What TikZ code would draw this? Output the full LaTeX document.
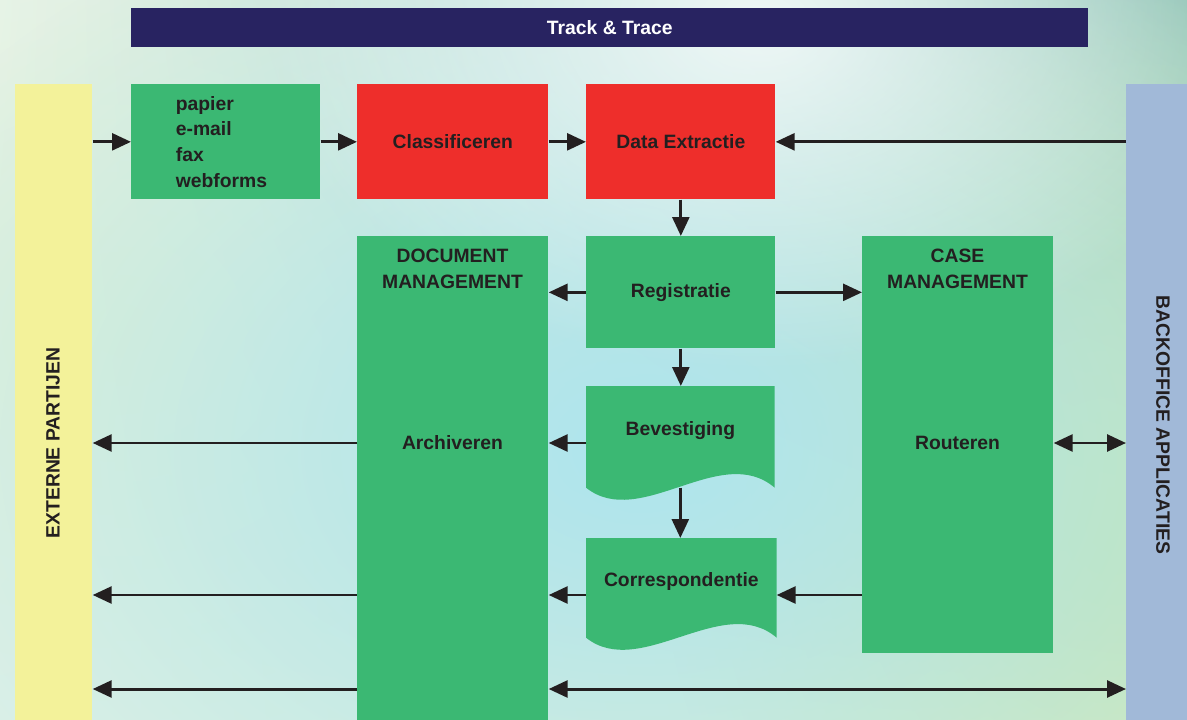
\documentclass[tikz,border=0pt]{standalone}
\usepackage{fontspec}
\setmainfont{Liberation Sans}
\usetikzlibrary{arrows.meta,calc,fadings,shadings,backgrounds}

\definecolor{boxgreen}{HTML}{3BB873}
\definecolor{boxred}{HTML}{EE2E2B}
\definecolor{barnavy}{HTML}{282361}
\definecolor{baryellow}{HTML}{F3F29A}
\definecolor{barblue}{HTML}{A1B9D8}
\definecolor{inkblack}{HTML}{231F20}
\definecolor{bgcyan}{HTML}{AEE5EE}
\definecolor{bgteal}{HTML}{8FC3B6}
\definecolor{bggreen}{HTML}{C8E6B2}
\definecolor{bgpale}{HTML}{E2F1D6}
\definecolor{bgtopleft}{HTML}{E8F4EC}
\definecolor{bgbotleft}{HTML}{E0F2EA}
\definecolor{bgbotright}{HTML}{E2EEC4}

\tikzfading[name=blob, inner color=transparent!0, outer color=transparent!100]

\tikzset{
  base/.style={inner sep=0pt, font=\bfseries\fontsize{11}{14.6}\selectfont, text=inkblack},
  box/.style={base, fill=boxgreen, anchor=north west, minimum width=3.78cm, minimum height=2.30cm},
  redbox/.style={box, fill=boxred},
  doc/.style={box, fill=none, text depth=10pt},
  arr/.style={line width=1.7pt, draw=inkblack, ->},
  dbl/.style={arr, <->}
}

\begin{document}
\begin{tikzpicture}[x=0.02cm, y=-0.02cm, >={Triangle[length=10.8pt,width=9.6pt]}]
  \useasboundingbox (0,0) rectangle (1187,720);

  \node[box, fill=barnavy, text=white, minimum width=19.14cm, minimum height=0.78cm] (track) at (131,8) {Track \& Trace};
  \node[box, fill=baryellow, minimum width=1.54cm, minimum height=12.76cm] (ext) at (15,84) {};
  \node[box, fill=barblue, minimum width=1.22cm, minimum height=12.76cm] (bo) at (1126,84) {};
  \node[base, rotate=90] (extlab) at (53,443) {EXTERNE PARTIJEN};
  \node[base, rotate=-90] (bolab) at (1163,425) {BACKOFFICE APPLICATIES};

  \node[box, text width=2.0cm, align=left] (papier) at (131,84) {papier\\e-mail\\fax\\webforms};
  \node[redbox, minimum width=3.82cm] (class) at (357,84) {Classificeren};
  \node[redbox] (extr) at (586,84) {Data Extractie};
  \node[box, minimum height=2.24cm] (reg) at (586,236) {Registratie};
  \node[box, minimum width=3.82cm, minimum height=9.72cm] (docm) at (357,236) {};
  \node[box, minimum width=3.82cm, minimum height=8.34cm] (casem) at (862,236) {};
  \node[doc, minimum width=3.76cm, minimum height=2.02cm] (bev) at (586,386) {Bevestiging};
  \node[doc, minimum width=3.80cm, minimum height=1.98cm] (cor) at (586,538) {Correspondentie};

  \node[base, align=center] (dochead) at (452.5,269) {DOCUMENT\\MANAGEMENT};
  \node[base] (arch) at (452.5,443) {Archiveren};
  \node[base, align=center] (casehead) at (957.5,269) {CASE\\MANAGEMENT};
  \node[base] (rout) at (957.5,443) {Routeren};

  % background and document shapes
  \begin{scope}[on background layer]
    \clip (0,0) rectangle (1187,720);
    \shade[shading=bilinear interpolation, upper left=bgtopleft, upper right=bgteal, lower left=bgbotleft, lower right=bgbotright] (0,0) rectangle (1187,720);
    \fill[bgpale, path fading=blob] (120,330) ellipse [x radius=10cm, y radius=9cm];
    \fill[bggreen, path fading=blob] (1110,520) ellipse [x radius=9cm, y radius=11cm];
    \fill[bgcyan, path fading=blob] (640,450) ellipse [x radius=17cm, y radius=12cm];
    \fill[white, path fading=blob, opacity=0.8] (760,20) ellipse [x radius=10cm, y radius=7cm];
    \foreach \d in {bev,cor}
      \fill[boxgreen] (\d.north west) -- (\d.north east) -- (\d.south east)
        .. controls +(-54,-46) and +(54,43) .. (\d.south west) -- cycle;
  \end{scope}

  \coordinate (row3) at (0,595);
  \coordinate (row4) at (0,689);

  % connectors
  \draw[arr] (ext.east |- papier) -- (papier.west);
  \draw[arr] (papier.east) -- (class.west);
  \draw[arr] (class.east) -- (extr.west);
  \draw[arr] (bo.west |- extr) -- (extr.east);
  \draw[arr] (extr.south) -- (reg.north);
  \draw[arr] (reg.west) -- (docm.east |- reg);
  \draw[arr] (reg.east) -- (casem.west |- reg);
  \draw[arr] (reg.south) -- (reg.south |- bev.north);
  \draw[arr] (bev.south) -- (bev.south |- cor.north);
  \draw[arr] (bev.west |- arch) -- (docm.east |- arch);
  \draw[arr] (docm.west |- arch) -- (ext.east |- arch);
  \draw[dbl] (casem.east |- rout) -- (bo.west |- rout);
  \draw[arr] (cor.west |- row3) -- (docm.east |- row3);
  \draw[arr] (casem.west |- row3) -- (cor.east |- row3);
  \draw[arr] (docm.west |- row3) -- (ext.east |- row3);
  \draw[arr] (docm.west |- row4) -- (ext.east |- row4);
  \draw[dbl] (docm.east |- row4) -- (bo.west |- row4);
\end{tikzpicture}
\end{document}
